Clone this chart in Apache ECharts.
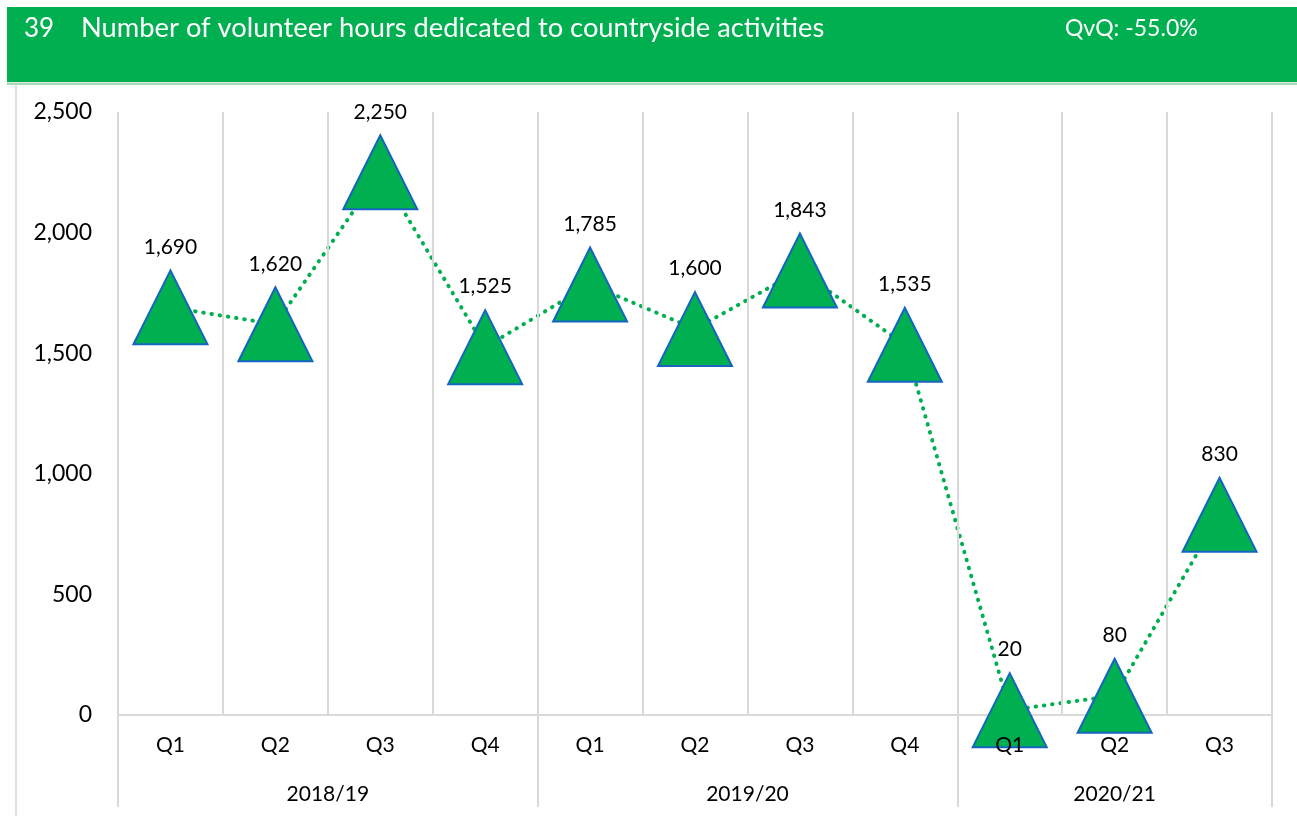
<!DOCTYPE html>
<html>
<head>
<meta charset="utf-8">
<script src="https://cdn.jsdelivr.net/npm/echarts@6/dist/echarts.min.js"></script>
<style>
  html, body { margin: 0; padding: 0; background: #fff; }
  #chart { width: 1297px; height: 816px; }
</style>
</head>
<body>
<div id="chart"></div>
<script>
// Quarterly volunteer hours, grouped by financial year
const quarters = ['Q1', 'Q2', 'Q3', 'Q4', 'Q1', 'Q2', 'Q3', 'Q4', 'Q1', 'Q2', 'Q3'];
const years = ['2018/19', '2019/20', '2020/21'];
const quartersPerYear = [4, 4, 3];
const hours = [1690, 1620, 2250, 1525, 1785, 1600, 1843, 1535, 20, 80, 830];
const yMin = 0, yMax = 2500, yStep = 500;

const indicatorNo = '39';
const indicatorTitle = 'Number of volunteer hours dedicated to countryside activities';
const changeText = 'QvQ: -55.0%';

const FONT = 'Lato, "Open Sans", sans-serif';
const GREEN = '#00B050';
const GRID = '#d9d9d9';

// Centre of each year group, measured in quarter slots along the axis
const yearCentres = [];
let start = 0;
quartersPerYear.forEach(n => { yearCentres.push(start + n / 2); start += n; });
const totalSlots = start;

// Indices where a new year begins: long separators run down through the labels
const groupStarts = [];
start = 0;
quartersPerYear.forEach(n => { groupStarts.push(start); start += n; });

const fmt = v => Number(v).toLocaleString('en-US');

const chart = echarts.init(document.getElementById('chart'), null, { renderer: 'canvas' });

chart.setOption({
  animation: false,
  backgroundColor: '#ffffff',
  textStyle: { fontFamily: FONT },
  graphic: [
    { type: 'rect', shape: { x: 7, y: 7, width: 1290, height: 75 }, style: { fill: GREEN }, z: -10 },
    { type: 'rect', shape: { x: 7, y: 82, width: 1290, height: 1 }, style: { fill: '#e4e4e4' }, z: -10 },
    { type: 'rect', shape: { x: 7, y: 83, width: 1290, height: 2 }, style: { fill: '#a6d9b6' }, z: -10 },
    { type: 'rect', shape: { x: 15, y: 85, width: 2, height: 731 }, style: { fill: '#e0e0e0' }, z: -10 }
  ],
  title: [
    { text: indicatorNo, left: 19, top: 11, textStyle: { color: '#fff', fontSize: 26, fontWeight: 'normal', fontFamily: FONT } },
    { text: indicatorTitle, left: 76, top: 10, textStyle: { color: '#fff', fontSize: 27.3, fontWeight: 'normal', fontFamily: FONT } },
    { text: changeText, left: 1060, top: 12, textStyle: { color: '#fff', fontSize: 23, fontWeight: 'normal', fontFamily: FONT } }
  ],
  grid: { left: 118, right: 25, top: 112, bottom: 101, containLabel: false },
  xAxis: [
    {
      type: 'category',
      data: quarters,
      boundaryGap: true,
      position: 'bottom',
      z: 10,
      axisLine: { show: false },
      axisTick: {
        show: true,
        length: 92,
        interval: (i) => groupStarts.indexOf(i) >= 0,
        lineStyle: { color: GRID, width: 2 }
      },
      splitLine: { show: true, interval: 0, lineStyle: { color: GRID, width: 2 } },
      axisLabel: { interval: 0, margin: 20, color: '#000', fontSize: 21, fontFamily: FONT }
    },
    {
      type: 'value',
      min: 0,
      max: totalSlots,
      interval: 0.5,
      position: 'bottom',
      z: 0,
      axisLine: { show: true, lineStyle: { color: GRID, width: 2 } },
      axisTick: { show: false },
      splitLine: { show: false },
      axisLabel: {
        margin: 69,
        color: '#000',
        fontSize: 21,
        fontFamily: FONT,
        showMinLabel: true,
        showMaxLabel: true,
        formatter: (v) => {
          const k = yearCentres.findIndex(c => Math.abs(c - v) < 1e-6);
          return k >= 0 ? years[k] : '';
        }
      }
    }
  ],
  yAxis: {
    type: 'value',
    min: yMin,
    max: yMax,
    interval: yStep,
    axisLine: { show: false },
    axisTick: { show: false },
    splitLine: { show: false },
    axisLabel: { margin: 26, color: '#000', fontSize: 23, fontFamily: FONT, formatter: fmt }
  },
  series: [
    {
      type: 'line',
      xAxisIndex: 0,
      data: hours,
      symbol: 'triangle',
      symbolSize: [74, 74],
      z: 5,
      itemStyle: { color: GREEN, borderColor: '#1565C0', borderWidth: 2 },
      lineStyle: { color: GREEN, width: 4, type: [0.5, 7.8], cap: 'round' },
      label: {
        show: true,
        position: 'top',
        distance: 12,
        color: '#000',
        fontSize: 21,
        fontFamily: FONT,
        formatter: (p) => fmt(p.value)
      },
      emphasis: { disabled: true }
    }
  ]
});
</script>
</body>
</html>
